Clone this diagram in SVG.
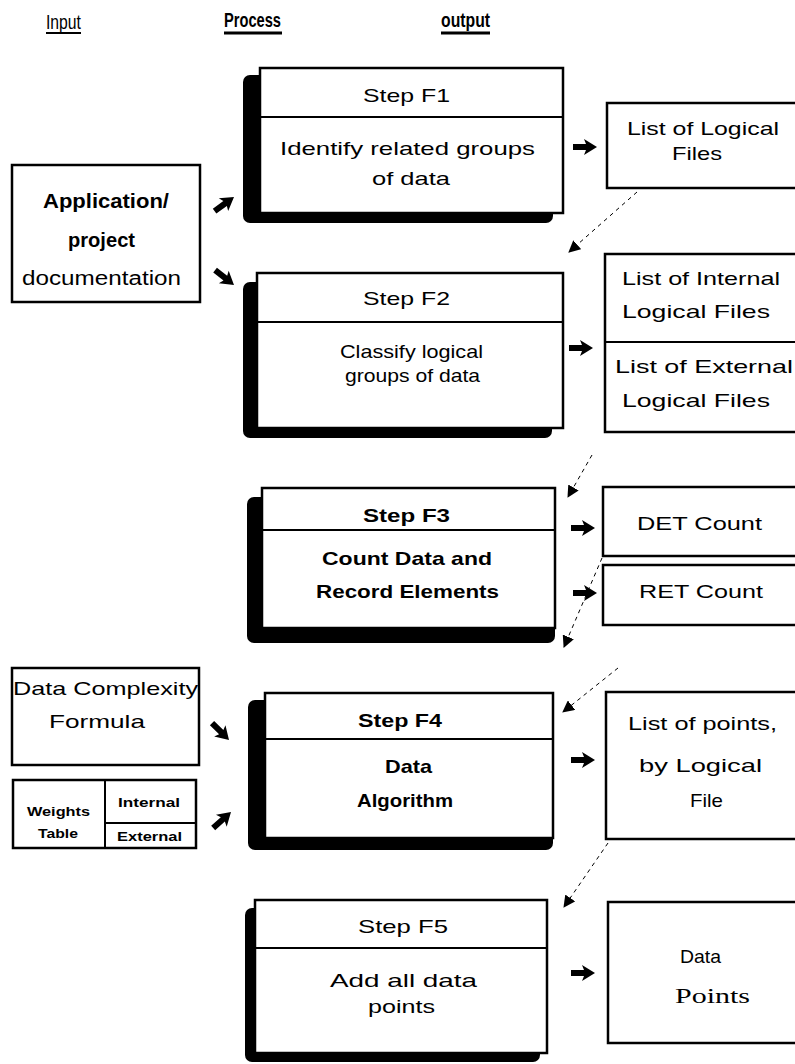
<svg xmlns="http://www.w3.org/2000/svg" width="795" height="1064" viewBox="0 0 795 1064">
  <style>
    text { font-family: "Liberation Sans", Arial, sans-serif; fill: #000; font-size: 19px; }
    .m { text-anchor: middle; }
    .b { font-weight: bold; }
    .hdr { font-size: 21px; }
    .big { font-size: 20px; }
    .serif { font-family: "Liberation Serif", "Times New Roman", serif; font-size: 21px; }
    .small { font-size: 13px; font-weight: bold; }
    .box { fill: #fff; stroke: #000; stroke-width: 2.5; }
    .shadow { fill: #000; }
    .div { stroke: #000; stroke-width: 2; }
    .dash { stroke: #000; stroke-width: 1; stroke-dasharray: 4 4; fill: none; marker-end: url(#head); }
  </style>
  <defs>
    <!-- fat block arrow, tip at origin, pointing along +x -->
    <path id="fat" d="M0,0 L-13,-8 L-11,-3 L-24,-3 L-24,3 L-11,3 L-13,8 Z" fill="#000"/>
    <marker id="head" viewBox="0 0 12 12" refX="11" refY="6" markerWidth="12" markerHeight="12" markerUnits="userSpaceOnUse" orient="auto">
      <path d="M0,0 L12,6 L0,12 Z" fill="#000"/>
    </marker>
  </defs>

  <rect width="795" height="1064" fill="#fff"/>

  <!-- column headings -->
  <g id="headings">
    <text class="hdr" x="46" y="29" textLength="35" lengthAdjust="spacingAndGlyphs">Input</text>
    <line x1="46" y1="33" x2="81" y2="33" stroke="#000" stroke-width="2"/>
    <text class="hdr b" x="224" y="27" textLength="57" lengthAdjust="spacingAndGlyphs">Process</text>
    <line x1="224" y1="33" x2="282" y2="33" stroke="#000" stroke-width="3"/>
    <text class="hdr b" x="441" y="27" textLength="49" lengthAdjust="spacingAndGlyphs">output</text>
    <line x1="441" y1="33" x2="490" y2="33" stroke="#000" stroke-width="3"/>
  </g>

  <!-- inputs -->
  <g id="app-doc">
    <rect class="box" x="12" y="165" width="188" height="137" stroke-width="3"/>
    <text class="big b" x="43" y="208" textLength="126" lengthAdjust="spacingAndGlyphs">Application/</text>
    <text class="big b" x="68" y="247" textLength="67" lengthAdjust="spacingAndGlyphs">project</text>
    <text class="big" x="22" y="285" textLength="159" lengthAdjust="spacingAndGlyphs">documentation</text>
  </g>

  <g id="complexity-formula">
    <rect class="box" x="12" y="668" width="187" height="97"/>
    <text x="13" y="695" textLength="185" lengthAdjust="spacingAndGlyphs">Data Complexity</text>
    <text x="49" y="728" textLength="96" lengthAdjust="spacingAndGlyphs">Formula</text>
  </g>

  <g id="weights-table">
    <rect class="box" x="13" y="780" width="183" height="68"/>
    <line class="div" x1="105" y1="780" x2="105" y2="848" stroke-width="1.5"/>
    <line class="div" x1="105" y1="823" x2="196" y2="823" stroke-width="1"/>
    <text class="small" x="27" y="816" textLength="63" lengthAdjust="spacingAndGlyphs">Weights</text>
    <text class="small" x="38" y="838" textLength="40" lengthAdjust="spacingAndGlyphs">Table</text>
    <text class="small" x="118" y="807" textLength="62" lengthAdjust="spacingAndGlyphs">Internal</text>
    <text class="small" x="117" y="841" textLength="65" lengthAdjust="spacingAndGlyphs">External</text>
  </g>

  <!-- process steps -->
  <g id="step-f1">
    <rect class="shadow" x="243" y="75" width="310" height="148" rx="7"/>
    <rect class="box" x="260" y="68" width="303" height="145"/>
    <line class="div" x1="260" y1="117" x2="563" y2="117"/>
    <text x="363" y="102" textLength="87" lengthAdjust="spacingAndGlyphs">Step  F1</text>
    <text x="280" y="155" textLength="255" lengthAdjust="spacingAndGlyphs">Identify related groups</text>
    <text x="372" y="185" textLength="78" lengthAdjust="spacingAndGlyphs">of data</text>
  </g>

  <g id="step-f2">
    <rect class="shadow" x="243" y="282" width="309" height="156" rx="7"/>
    <rect class="box" x="257" y="273" width="306" height="155"/>
    <line class="div" x1="257" y1="322" x2="563" y2="322"/>
    <text x="363" y="305" textLength="87" lengthAdjust="spacingAndGlyphs">Step  F2</text>
    <text x="340" y="358" textLength="143" lengthAdjust="spacingAndGlyphs">Classify logical</text>
    <text x="345" y="382" textLength="135" lengthAdjust="spacingAndGlyphs">groups of data</text>
  </g>

  <g id="step-f3">
    <rect class="shadow" x="247" y="497" width="308" height="146" rx="7"/>
    <rect class="box" x="262" y="488" width="293" height="140"/>
    <line class="div" x1="262" y1="530" x2="555" y2="530"/>
    <text class="b" x="363" y="522" textLength="87" lengthAdjust="spacingAndGlyphs">Step  F3</text>
    <text class="b" x="322" y="565" textLength="170" lengthAdjust="spacingAndGlyphs">Count  Data  and</text>
    <text class="b" x="316" y="598" textLength="183" lengthAdjust="spacingAndGlyphs">Record  Elements</text>
  </g>

  <g id="step-f4">
    <rect class="shadow" x="248" y="700" width="305" height="150" rx="7"/>
    <rect class="box" x="265" y="693" width="288" height="145"/>
    <line class="div" x1="265" y1="739" x2="553" y2="739"/>
    <text class="b" x="358" y="727" textLength="84" lengthAdjust="spacingAndGlyphs">Step  F4</text>
    <text class="b" x="385" y="773" textLength="47" lengthAdjust="spacingAndGlyphs">Data</text>
    <text class="b" x="357" y="807" textLength="96" lengthAdjust="spacingAndGlyphs">Algorithm</text>
  </g>

  <g id="step-f5">
    <rect class="shadow" x="245" y="908" width="295" height="154" rx="7"/>
    <rect class="box" x="255" y="900" width="292" height="153"/>
    <line class="div" x1="255" y1="948" x2="547" y2="948"/>
    <text x="358" y="933" textLength="90" lengthAdjust="spacingAndGlyphs">Step  F5</text>
    <text x="330" y="987" textLength="147" lengthAdjust="spacingAndGlyphs">Add  all  data</text>
    <text x="368" y="1013" textLength="67" lengthAdjust="spacingAndGlyphs">points</text>
  </g>

  <!-- outputs -->
  <g id="logical-files">
    <rect class="box" x="607" y="103" width="200" height="85"/>
    <text x="627" y="135" textLength="152" lengthAdjust="spacingAndGlyphs">List of Logical</text>
    <text x="672" y="160" textLength="50" lengthAdjust="spacingAndGlyphs">Files</text>
  </g>

  <g id="int-ext-files">
    <rect class="box" x="605" y="254" width="200" height="178"/>
    <line class="div" x1="605" y1="342" x2="797" y2="342"/>
    <text x="622" y="285" textLength="158" lengthAdjust="spacingAndGlyphs">List of Internal</text>
    <text x="622" y="318" textLength="148" lengthAdjust="spacingAndGlyphs">Logical  Files</text>
    <text x="615" y="373" textLength="178" lengthAdjust="spacingAndGlyphs">List of  External</text>
    <text x="622" y="407" textLength="148" lengthAdjust="spacingAndGlyphs">Logical  Files</text>
  </g>

  <g id="det-count">
    <rect class="box" x="603" y="487" width="200" height="69"/>
    <text x="637" y="530" textLength="125" lengthAdjust="spacingAndGlyphs">DET  Count</text>
  </g>

  <g id="ret-count">
    <rect class="box" x="603" y="565" width="200" height="60"/>
    <text x="639" y="598" textLength="124" lengthAdjust="spacingAndGlyphs">RET  Count</text>
  </g>

  <g id="points-list">
    <rect class="box" x="606" y="692" width="200" height="147"/>
    <text x="628" y="730" textLength="149" lengthAdjust="spacingAndGlyphs">List of points,</text>
    <text x="639" y="772" textLength="123" lengthAdjust="spacingAndGlyphs">by  Logical</text>
    <text x="690" y="807" textLength="33" lengthAdjust="spacingAndGlyphs">File</text>
  </g>

  <g id="data-points">
    <rect class="box" x="608" y="902" width="200" height="141"/>
    <text x="680" y="963" textLength="41" lengthAdjust="spacingAndGlyphs">Data</text>
    <text class="serif" x="675" y="1003" textLength="75" lengthAdjust="spacingAndGlyphs">Points</text>
  </g>

  <!-- connectors -->
  <g id="connectors">
    <use href="#fat" transform="translate(234,197) rotate(-36)"/>
    <use href="#fat" transform="translate(234,285) rotate(38)"/>
    <use href="#fat" transform="translate(229,740) rotate(45)"/>
    <use href="#fat" transform="translate(231,812) rotate(-42)"/>
    <use href="#fat" transform="translate(597,147)"/>
    <use href="#fat" transform="translate(593,348)"/>
    <use href="#fat" transform="translate(595,528)"/>
    <use href="#fat" transform="translate(597,593)"/>
    <use href="#fat" transform="translate(595,760)"/>
    <use href="#fat" transform="translate(595,973)"/>
    <line class="dash" x1="637" y1="192" x2="569" y2="252"/>
    <line class="dash" x1="592" y1="455" x2="568" y2="497"/>
    <line class="dash" x1="602" y1="558" x2="564" y2="647"/>
    <line class="dash" x1="618" y1="668" x2="563" y2="712"/>
    <line class="dash" x1="608" y1="843" x2="564" y2="907"/>
  </g>
</svg>
